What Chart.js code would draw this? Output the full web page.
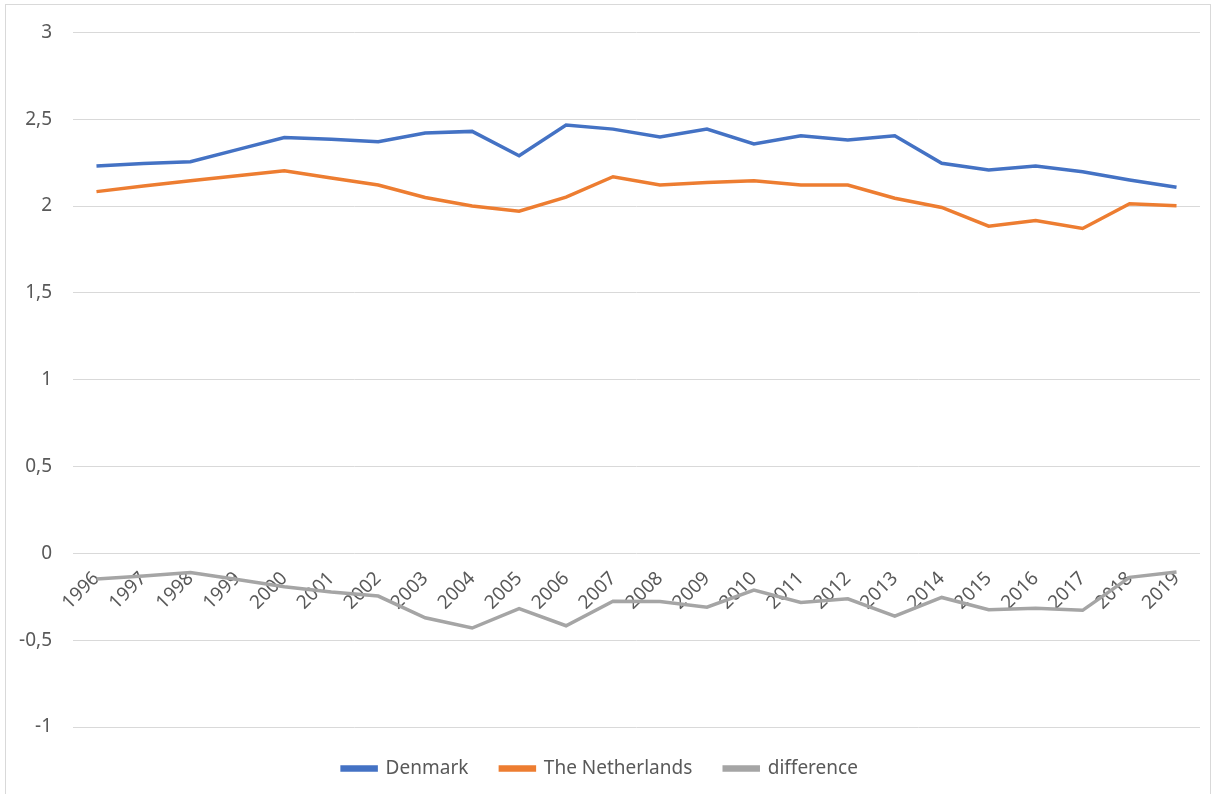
<!DOCTYPE html>
<html>
<head>
<meta charset="utf-8">
<script src="https://cdn.jsdelivr.net/npm/chart.js@4.4.1/dist/chart.umd.min.js"></script>
<style>
  html, body { margin: 0; padding: 0; background: #fff; }
  #wrap { position: relative; width: 1216px; height: 794px; overflow: hidden; }
  #frame { position: absolute; left: 5px; top: 4px; width: 1204px; height: 820px; border: 1px solid #d9d9d9; }
  #chart { position: absolute; left: 0; top: 0; }
</style>
</head>
<body>
<div id="wrap">
  <div id="frame"></div>
  <canvas id="chart" width="1216" height="794"></canvas>
</div>
<script>
// Years on the category axis
const years = [
  '1996', '1997', '1998', '1999', '2000', '2001', '2002', '2003',
  '2004', '2005', '2006', '2007', '2008', '2009', '2010', '2011',
  '2012', '2013', '2014', '2015', '2016', '2017', '2018', '2019'
];

// Values
const denmark = [
  2.23, 2.245, 2.255, 2.325, 2.395, 2.385, 2.37, 2.42,
  2.43, 2.29, 2.466, 2.443, 2.398, 2.443, 2.358, 2.405,
  2.381, 2.405, 2.246, 2.208, 2.231, 2.197, 2.15, 2.108
];
const netherlands = [
  2.083, 2.115, 2.146, 2.175, 2.203, 2.162, 2.121, 2.049,
  2.0, 1.97, 2.051, 2.169, 2.121, 2.136, 2.146, 2.121,
  2.121, 2.045, 1.992, 1.884, 1.917, 1.871, 2.013, 2.002
];
const difference = [
  -0.148, -0.13, -0.11, -0.15, -0.192, -0.223, -0.246, -0.371,
  -0.43, -0.318, -0.417, -0.276, -0.277, -0.31, -0.212, -0.283,
  -0.262, -0.362, -0.254, -0.325, -0.316, -0.328, -0.138, -0.107
];

const yTicks = { min: -1, max: 3, step: 0.5 };

const fontFamily = "'Noto Sans', 'Liberation Sans', sans-serif";
const fontSize = 19;
const textColor = '#595959';
const gridColor = '#d9d9d9';

const makeSeries = (label, data, color) => ({
  label,
  data,
  borderColor: color,
  backgroundColor: color,
  borderWidth: 3.5,
  pointRadius: 0,
  pointHoverRadius: 0,
  tension: 0,
  fill: false
});

const lineChart = new Chart(
  document.getElementById('chart').getContext('2d'),
  {
    type: 'line',
    data: {
      labels: years,
      datasets: [
        makeSeries('Denmark', denmark, '#4472c4'),
        makeSeries('The Netherlands', netherlands, '#ed7d31'),
        makeSeries('difference', difference, '#a5a5a5')
      ]
    },
    options: {
      responsive: false,
      animation: false,
      layout: {
        padding: { left: 0, right: 16, top: 30, bottom: 6 }
      },
      scales: {
        x: {
          position: { y: 0 },
          offset: true,
          grid: { display: false },
          border: { display: false },
          ticks: {
            autoSkip: false,
            minRotation: 45,
            maxRotation: 45,
            padding: 6,
            color: textColor,
            font: { family: fontFamily, size: fontSize }
          }
        },
        y: {
          min: yTicks.min,
          max: yTicks.max,
          afterFit: (scale) => { scale.width = 73; },
          grid: { color: gridColor, lineWidth: 1, drawTicks: false },
          border: { display: false },
          ticks: {
            stepSize: yTicks.step,
            padding: 21,
            color: textColor,
            font: { family: fontFamily, size: fontSize },
            callback: (v) => String(v).replace('.', ',')
          }
        }
      },
      plugins: {
        legend: {
          position: 'bottom',
          labels: {
            boxWidth: 34,
            boxHeight: 3,
            padding: 32,
            color: textColor,
            font: { family: fontFamily, size: fontSize }
          }
        },
        tooltip: { enabled: false }
      }
    }
  }
);
</script>
</body>
</html>
